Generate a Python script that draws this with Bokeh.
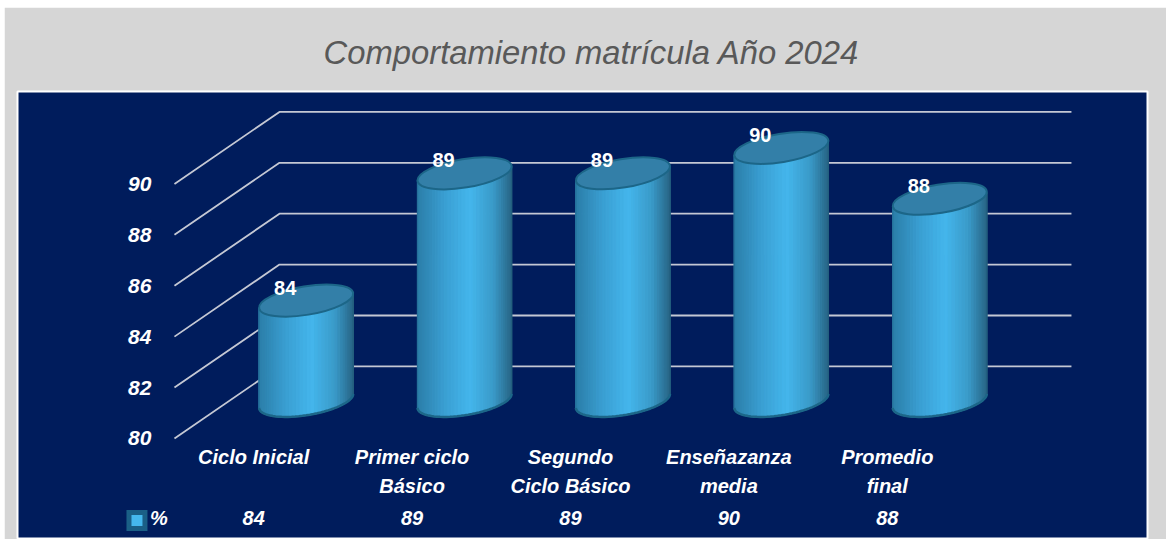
import math
from bokeh.plotting import figure
from bokeh.models import Range1d, FixedTicker, Title, LinearAxis
from bokeh.core.properties import value
from bokeh.embed import file_html
from bokeh.resources import INLINE

categories = ["Ciclo Inicial", "Primer ciclo\nBásico", "Segundo\nCiclo Básico", "Enseñazanza\nmedia", "Promedio\nfinal"]
values = [84, 89, 89, 90, 88]
y_ticks = [80, 82, 84, 86, 88, 90]
title_text = "Comportamiento matrícula Año 2024"
series_name = "%"

FONT = value("Liberation Sans")
NAVY, GRAY = "#001C5C", "#D6D6D6"

# scale of the chart (pixels per data unit) and the oblique 3-D projection
PX_X, PX_Y = 158.4, 25.45
DEPTH_X, DEPTH_Y = 105 / PX_X, 72 / PX_Y       # full floor depth
A, B, TILT = 47.6, 14.2, math.radians(9.3)     # cylinder's ellipse, pixels

p = figure(width=1162, height=532, output_backend="svg", toolbar_location=None,
           x_range=Range1d(-1.491, 5.643), y_range=Range1d(76.03, 93.63),
           background_fill_color=NAVY, border_fill_color=GRAY,
           outline_line_color="white", outline_line_width=2,
           min_border_left=13, min_border_right=19, min_border_top=84, min_border_bottom=0)
p.margin = (7, 0, 0, 4)
p.grid.visible = False

t = Title(text=title_text, text_font="Liberation Sans", text_font_style="italic",
          text_font_size="32.8px", text_color="#595959", align="left",
          offset=306, standoff=42)
p.add_layout(t, "above")

def style_axis(ax, size):
    ax.axis_line_color = None
    ax.major_tick_line_color = None
    ax.minor_tick_line_color = None
    ax.major_label_text_color = "white"
    ax.major_label_text_font = "Liberation Sans"
    ax.major_label_text_font_style = "bold italic"
    ax.major_label_text_font_size = size

# axes sit inside the frame, on the front edge of the floor
style_axis(p.yaxis[0], "21px")
p.yaxis[0].ticker = FixedTicker(ticks=y_ticks)
p.yaxis[0].fixed_location = -0.5
p.yaxis[0].major_label_standoff = 17

positions = list(range(len(categories)))
first_lines = {i: c.split("\n")[0] for i, c in enumerate(categories)}
second_lines = {i: c.split("\n")[1] for i, c in enumerate(categories) if "\n" in c}
style_axis(p.xaxis[0], "20px")
p.xaxis[0].ticker = FixedTicker(ticks=positions)
p.xaxis[0].major_label_overrides = first_lines
p.xaxis[0].fixed_location = y_ticks[0]
p.xaxis[0].major_label_standoff = 2

axis2 = LinearAxis(ticker=FixedTicker(ticks=sorted(second_lines)),
                   major_label_overrides=second_lines,
                   fixed_location=y_ticks[0], major_label_standoff=31)
style_axis(axis2, "20px")
p.add_layout(axis2, "below")

# walls
last = len(categories) - 0.5
xs, ys = [], []
for v in y_ticks:
    xs.append([-0.5, -0.5 + DEPTH_X, last + DEPTH_X])
    ys.append([v, v + DEPTH_Y, v + DEPTH_Y])
p.multi_line(xs, ys, line_color="#C4C8D4", line_width=1.8)

# cylinder
def ring(t):
    px = A * math.cos(t) * math.cos(TILT) - B * math.sin(t) * math.sin(TILT)
    py = A * math.cos(t) * math.sin(TILT) + B * math.sin(t) * math.cos(TILT)
    return px, py

STOPS = [(0, (0x2C, 0x7F, 0xAA)), (0.28, (0x3A, 0x9F, 0xD2)), (0.55, (0x44, 0xB6, 0xEC)),
         (0.8, (0x3A, 0x9A, 0xC8)), (1, (0x27, 0x62, 0x82))]
def shade(u):
    for (u0, c0), (u1, c1) in zip(STOPS, STOPS[1:]):
        if u <= u1:
            f = (u - u0) / (u1 - u0)
            return "#%02X%02X%02X" % tuple(round(a + (b - a) * f) for a, b in zip(c0, c1))
    return "#276282"

t_right = math.atan2(-B * math.sin(TILT), A * math.cos(TILT))
N = 40
ts = [t_right - math.pi * k / N for k in range(N + 1)]
rim = [ring(a) for a in ts]
xmax = rim[0][0]

for i, v in enumerate(values):
    cx = i + DEPTH_X / 2
    base = y_ticks[0] + (DEPTH_Y / 2) + 1.5 / PX_Y
    top = v + DEPTH_Y / 2
    px, py, colors = [], [], []
    for k in range(N):
        (x0, y0), (x1, y1) = rim[k], rim[k + 1]
        px.append([cx + x0 / PX_X, cx + x1 / PX_X, cx + x1 / PX_X, cx + x0 / PX_X])
        py.append([base + y0 / PX_Y, base + y1 / PX_Y, top + y1 / PX_Y, top + y0 / PX_Y])
        colors.append(shade(((x0 + x1) / 2 + xmax) / (2 * xmax)))
    p.patches(px, py, fill_color=colors, line_color=colors, line_width=1.3)
    p.line([cx + x / PX_X for x, _ in rim], [base + y / PX_Y for _, y in rim],
           line_color="#1C6688", line_width=2.5)
    p.line([cx - xmax / PX_X, cx - xmax / PX_X], [base + rim[-1][1] / PX_Y, top + rim[-1][1] / PX_Y],
           line_color="#25719A", line_width=1.2)
    p.line([cx + xmax / PX_X, cx + xmax / PX_X], [base + rim[0][1] / PX_Y, top + rim[0][1] / PX_Y],
           line_color="#235F7E", line_width=1.2)
    p.ellipse([cx], [top], width=2 * A, height=2 * B, width_units="screen", height_units="screen",
              angle=TILT, fill_color="#337FA8", line_color="#1C6688", line_width=2)
    p.text([cx], [top], text=[str(v)], text_color="white", text_font=FONT,
           text_font_style="bold", text_font_size="20px", text_align="center",
           text_baseline="middle", x_offset=-21, y_offset=-13)

# data table row
row_y = y_ticks[0] - 80 / PX_Y
p.text(positions, [row_y] * len(values), text=[str(v) for v in values],
       text_color="white", text_font=FONT, text_font_style="bold italic",
       text_font_size="20px", text_align="center", text_baseline="middle")
key_x = -0.5 - 37.5 / PX_X
key_y = row_y - 2 / PX_Y
p.rect([key_x], [key_y], width=21, height=21, width_units="screen", height_units="screen",
       fill_color="#1A5F86", line_color=None)
p.rect([key_x], [key_y], width=11, height=11, width_units="screen", height_units="screen",
       fill_color="#45B8EE", line_color=None)
p.text([key_x], [row_y], text=[series_name], text_color="white", text_font=FONT,
       text_font_style="bold italic", text_font_size="20px", text_align="left",
       text_baseline="middle", x_offset=13)

open("out.html", "w").write(file_html(p, INLINE))
